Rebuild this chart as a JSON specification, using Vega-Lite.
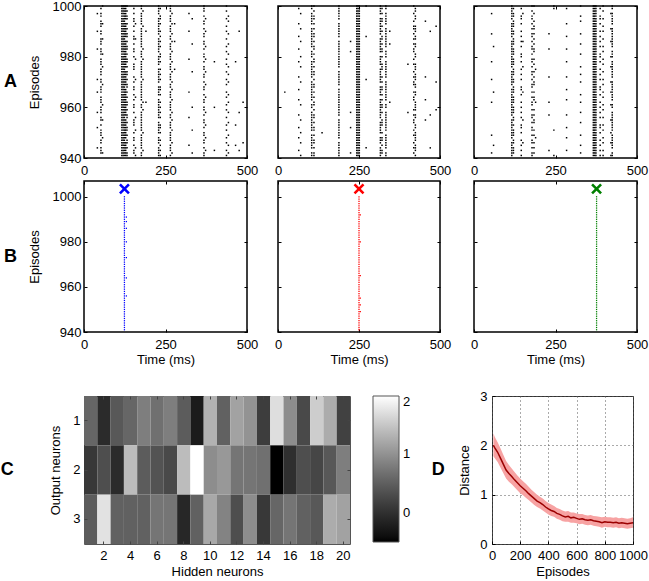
{
"$schema":"https://vega.github.io/schema/vega-lite/v6.json",
"padding":{"left":0,"top":-1,"right":2,"bottom":2},
"config":{
 "font":"Liberation Sans",
 "view":{"stroke":"black","strokeWidth":1.5},
 "axis":{"domain":false,"grid":false,"labelFont":"Liberation Sans","labelFontSize":13,"labelColor":"black","titleFont":"Liberation Sans","titleFontSize":13,"titleFontWeight":"normal","titleColor":"black","tickColor":"black","tickSize":-3,"labelFlush":false,"labelOverlap":false,"format":"d"},
 "axisX":{"labelPadding":9,"titlePadding":2},
 "axisY":{"labelPadding":6},
 "title":{"font":"Liberation Sans","color":"black","fontSize":18,"fontWeight":"bold"},
 "legend":{"labelFont":"Liberation Sans","labelFontSize":13,"labelColor":"black"}
},
"datasets":{
"spk":[
{"p":"A1","t":41,"e":[944,952,958,966,971,983,990,997]},
{"p":"A1","t":52,"e":[942,943,944,946,947,949,950,951,953,955,956,958,959,960,962,963,964,966,967,968,970,971,973,974,975,977,978,979,981,982,983,985,986,987,989,990,992,993,994,996,997,999]},
{"p":"A1","t":57,"e":[942,948,955,961,969,976,981,987,993,1000]},
{"p":"A1","t":116,"e":[941,942,943,944,945,946,947,948,949,950,951,952,953,954,955,956,957,958,959,960,961,962,963,964,965,966,967,968,969,970,971,972,973,974,975,976,977,978,979,980,981,982,983,984,985,986,987,988,989,990,991,992,993,994,995,996,997,998,999,1000]},
{"p":"A1","t":120,"e":[941,942,943,944,945,946,947,948,949,950,951,952,953,954,955,956,957,958,959,960,961,962,963,964,965,966,967,968,969,970,971,972,973,974,975,976,977,978,979,980,981,982,983,984,985,986,987,988,989,990,991,992,993,994,995,996,997,998,999,1000]},
{"p":"A1","t":124,"e":[941,942,943,944,945,946,947,948,949,950,951,952,953,954,955,956,957,958,959,960,961,962,963,964,965,966,967,968,969,970,971,972,973,974,975,976,977,978,979,980,981,982,983,984,985,986,987,988,989,990,991,992,993,994,995,996,997,998,999,1000]},
{"p":"A1","t":128,"e":[941,942,943,944,945,946,948,949,950,951,952,953,954,955,957,958,959,960,961,962,963,964,965,966,967,969,970,971,972,973,974,976,977,978,979,980,981,982,983,984,985,986,988,989,990,991,992,993,995,996,997,998,999,1000]},
{"p":"A1","t":132,"e":[941,942,944,946,947,949,951,952,954,956,957,959,961,962,964,966,968,969,971,973,974,976,978,979,981,983,984,986,988,989,991,993,995,996,998,1000]},
{"p":"A1","t":153,"e":[942,943,945,947,948,950,953,954,955,958,960,961,963,965,967,968,970,972,975,976,977,980,982,983,985,987,988,990,992,994,995,997,999]},
{"p":"A1","t":158,"e":[941,944,951,956,964,971,979,987,993]},
{"p":"A1","t":176,"e":[941,942,944,945,946,947,948,949,951,952,953,954,955,956,957,958,960,961,963,964,965,966,967,968,969,970,972,973,974,975,976,977,978,980,981,982,984,985,986,987,988,989,990,991,993,994,995,996,997,999,1000]},
{"p":"A1","t":181,"e":[943,950,959,962,971,979,983,992,998]},
{"p":"A1","t":190,"e":[962,990]},
{"p":"A1","t":229,"e":[941,942,943,944,946,947,948,950,951,952,953,954,956,957,958,959,960,961,962,963,965,966,967,968,970,971,972,973,974,975,977,978,979,980,982,983,984,985,986,987,989,990,991,992,993,994,995,997,998,999,1000]},
{"p":"A1","t":234,"e":[941,943,945,947,950,952,953,956,958,960,962,965,967,968,971,973,975,978,980,981,984,986,988,990,993,995,996,999]},
{"p":"A1","t":265,"e":[941,943,944,945,947,948,949,950,952,953,954,956,957,959,960,961,962,964,965,966,968,969,971,972,973,975,976,977,979,980,981,983,984,985,987,988,990,991,992,994,995,996,998,999,1000]},
{"p":"A1","t":270,"e":[942,946,951,955,958,963,967,970,974,978,982,986,989,993,997]},
{"p":"A1","t":278,"e":[975,986,993]},
{"p":"A1","t":322,"e":[945,956,966,979,990,997]},
{"p":"A1","t":332,"e":[942,951,960,974,985,995]},
{"p":"A1","t":368,"e":[941,942,944,946,947,949,950,952,954,955,957,959,960,962,963,965,967,968,970,972,973,975,976,978,980,981,983,985,986,988,989,991,993,994,996,998,999,1000]},
{"p":"A1","t":373,"e":[943,948,953,958,964,969,974,979,984,990,995]},
{"p":"A1","t":400,"e":[943,960,978]},
{"p":"A1","t":437,"e":[941,943,946,948,951,953,956,959,961,964,966,969,971,974,977,979,982,984,987,990,992,995,998,1000]},
{"p":"A1","t":443,"e":[942,945,949,954,958,962,965,970,973,976,981,985,989,994,996]},
{"p":"A1","t":465,"e":[953,978,945]},
{"p":"A1","t":476,"e":[943,958,990]},
{"p":"A1","t":488,"e":[946,962]},
{"p":"A2","t":21,"e":[966]},
{"p":"A2","t":64,"e":[943,948,952,957,963,967,972,978,983,988,993,999]},
{"p":"A2","t":70,"e":[941,946,950,955,961,970,976,980,986,991,997]},
{"p":"A2","t":104,"e":[941,942,944,945,946,947,948,949,951,952,953,954,955,956,957,958,960,961,963,964,965,966,967,968,969,970,972,973,974,975,976,977,978,980,981,982,984,985,986,987,988,989,990,991,993,994,995,996,997,999,1000]},
{"p":"A2","t":111,"e":[941,942,944,946,947,949,951,952,954,956,957,959,961,962,964,966,968,969,971,973,974,976,978,979,981,983,984,986,988,989,991,993,995,996,998,1000]},
{"p":"A2","t":136,"e":[950]},
{"p":"A2","t":188,"e":[941,942,943,944,945,946,948,949,950,951,952,953,954,955,957,958,959,960,961,962,963,964,965,966,967,969,970,971,972,973,974,976,977,978,979,980,981,982,983,984,985,986,988,989,990,991,992,993,995,996,997,998,999,1000]},
{"p":"A2","t":224,"e":[942,952,958,982,986]},
{"p":"A2","t":243,"e":[941,942,943,944,945,946,947,948,949,950,951,952,953,954,955,956,957,958,959,960,961,962,963,964,965,966,967,968,969,970,971,972,973,974,975,976,977,978,979,980,981,982,983,984,985,986,987,988,989,990,991,992,993,994,995,996,997,998,999,1000]},
{"p":"A2","t":247,"e":[941,942,943,944,945,946,947,948,949,950,951,952,953,954,955,956,957,958,959,960,961,962,963,964,965,966,967,968,969,970,971,972,973,974,975,976,977,978,979,980,981,982,983,984,985,986,987,988,989,990,991,992,993,994,995,996,997,998,999,1000]},
{"p":"A2","t":251,"e":[941,942,943,944,945,946,947,948,949,950,951,952,953,954,955,956,957,958,959,960,961,962,963,964,965,966,967,968,969,970,971,972,973,974,975,976,977,978,979,980,981,982,983,984,985,986,987,988,989,990,991,992,993,994,995,996,997,998,999,1000]},
{"p":"A2","t":272,"e":[944,971,988,1000]},
{"p":"A2","t":316,"e":[941,942,943,944,946,947,948,950,951,952,953,954,956,957,958,959,960,961,962,963,965,966,967,968,970,971,972,973,974,975,977,978,979,980,982,983,984,985,986,987,989,990,991,992,993,994,995,997,998,999,1000]},
{"p":"A2","t":321,"e":[942,943,945,947,948,950,953,954,955,958,960,961,963,965,967,968,970,972,975,976,977,980,982,983,985,987,988,990,992,994,995,997,999]},
{"p":"A2","t":333,"e":[941,942,944,945,946,947,948,949,951,952,953,954,955,956,957,958,960,961,963,964,965,966,967,968,969,970,972,973,974,975,976,977,978,980,981,982,984,985,986,987,988,989,990,991,993,994,995,996,997,999,1000]},
{"p":"A2","t":345,"e":[962,985,990]},
{"p":"A2","t":401,"e":[958,977]},
{"p":"A2","t":419,"e":[942,944,946,949,951,954,955,957,959,963,964,966,969,970,972,974,977,979,982,983,985,987,989,991,992,994,997,1000]},
{"p":"A2","t":424,"e":[941,943,944,945,947,948,949,950,952,953,956,957,959,960,961,962,965,966,968,969,971,972,973,975,976,977,980,981,984,985,987,988,990,991,992,995,996,998,999]},
{"p":"A2","t":455,"e":[955,963,972,994]},
{"p":"A2","t":470,"e":[944,957,990]},
{"p":"A2","t":488,"e":[959,970,992]},
{"p":"A3","t":54,"e":[942,949,962,971,978,989,997]},
{"p":"A3","t":60,"e":[945,966,984]},
{"p":"A3","t":116,"e":[941,942,943,944,945,946,948,949,950,951,952,953,954,955,957,958,959,960,961,962,963,964,965,966,967,969,970,971,972,973,974,976,977,978,979,980,981,982,983,984,985,986,988,989,990,991,992,993,995,996,997,998,999,1000]},
{"p":"A3","t":121,"e":[942,943,944,946,947,949,950,951,953,955,956,958,959,960,962,963,964,966,967,968,970,971,973,974,975,977,978,979,981,982,983,985,986,987,989,990,992,993,994,996,997,999]},
{"p":"A3","t":145,"e":[941,943,945,947,950,952,953,956,958,960,962,965,967,968,971,973,975,978,980,981,984,986,988,990,993,995,996,999]},
{"p":"A3","t":150,"e":[946,955,966,976,986,997]},
{"p":"A3","t":178,"e":[941,942,944,946,947,949,951,952,954,956,957,959,961,962,964,966,968,969,971,973,974,976,978,979,981,983,984,986,988,989,991,993,995,996,998,1000]},
{"p":"A3","t":184,"e":[942,944,946,949,951,954,955,957,959,963,964,966,969,970,972,974,977,979,982,983,985,987,989,991,992,994,997,1000]},
{"p":"A3","t":189,"e":[948,962,975]},
{"p":"A3","t":230,"e":[943,957,962,972,983,989]},
{"p":"A3","t":245,"e":[941,951,999,1000]},
{"p":"A3","t":284,"e":[943,948,952,957,963,967,972,978,983,988,993,999]},
{"p":"A3","t":327,"e":[942,945,949,954,958,962,965,970,973,976,981,985,989,994,996,1000]},
{"p":"A3","t":366,"e":[941,942,943,944,945,946,947,948,949,950,951,952,953,954,955,956,957,958,959,960,961,962,963,964,965,966,967,968,969,970,971,972,973,974,975,976,977,978,979,980,981,982,983,984,985,986,987,988,989,990,991,992,993,994,995,996,997,998,999,1000]},
{"p":"A3","t":370,"e":[941,942,943,944,945,946,947,948,949,950,951,952,953,954,955,956,957,958,959,960,961,962,963,964,965,966,967,968,969,970,971,972,973,974,975,976,977,978,979,980,981,982,983,984,985,986,987,988,989,990,991,992,993,994,995,996,997,998,999,1000]},
{"p":"A3","t":374,"e":[941,942,943,944,945,946,947,948,949,950,951,952,953,954,955,956,957,958,959,960,961,962,963,964,965,966,967,968,969,970,971,972,973,974,975,976,977,978,979,980,981,982,983,984,985,986,987,988,989,990,991,992,993,994,995,996,997,998,999,1000]},
{"p":"A3","t":387,"e":[941,943,945,947,950,952,953,956,958,960,962,965,967,968,971,973,975,978,980,981,984,986,988,990,993,995,996,999]},
{"p":"A3","t":396,"e":[941,943,946,948,951,953,956,959,961,964,966,969,971,974,977,979,982,984,987,990,992,995,998,1000]},
{"p":"A3","t":420,"e":[941,946,950,955,961,966,970,976,980,986,991,997]},
{"p":"A3","t":424,"e":[941,942,944,945,946,947,948,949,951,952,953,954,955,956,957,958,960,961,963,964,965,966,967,968,969,970,972,973,974,975,976,977,978,980,981,982,984,985,986,987,988,989,990,991,993,994,995,996,997,999,1000]},
{"p":"B1","t":124,"e":[941,942,943,944,945,946,947,948,949,950,951,952,953,954,955,956,957,958,959,960,961,962,963,964,965,966,967,968,969,970,971,972,973,974,975,976,977,978,979,980,981,982,983,984,985,986,987,988,989,990,991,992,993,994,995,996,997,998,999,1000]},
{"p":"B1","t":130,"e":[956,964,973,980,986,989,991]},
{"p":"B2","t":250,"e":[941,942,943,944,945,946,947,948,949,950,951,952,953,954,955,956,957,958,959,960,961,962,963,964,965,966,967,968,969,970,971,972,973,974,975,976,977,978,979,980,981,982,983,984,985,986,987,988,989,990,991,992,993,994,995,996,997,998,999,1000]},
{"p":"B2","t":254,"e":[949,952,955,965,980,992]},
{"p":"B3","t":376,"e":[941,942,943,944,945,946,947,948,949,950,951,952,953,954,955,956,957,958,959,960,961,962,963,964,965,966,967,968,969,970,971,972,973,974,975,976,977,978,979,980,981,982,983,984,985,986,987,988,989,990,991,992,993,994,995,996,997,998,999,1000]}
],
"mk":[{"p":"B1","t":124,"e":1003.5},{"p":"B2","t":250,"e":1003.5},{"p":"B3","t":376,"e":1003.5}],
"heat":[
{"h":1,"o":1,"v":0.58},{"h":2,"o":1,"v":-0.06},{"h":3,"o":1,"v":0.43},{"h":4,"o":1,"v":0.58},{"h":5,"o":1,"v":0.82},{"h":6,"o":1,"v":0.68},{"h":7,"o":1,"v":0.82},{"h":8,"o":1,"v":0.48},{"h":9,"o":1,"v":-0.25},{"h":10,"o":1,"v":1.31},{"h":11,"o":1,"v":0.53},{"h":12,"o":1,"v":1.17},{"h":13,"o":1,"v":1.02},{"h":14,"o":1,"v":0.14},{"h":15,"o":1,"v":1.71},{"h":16,"o":1,"v":0.97},{"h":17,"o":1,"v":0.28},{"h":18,"o":1,"v":1.56},{"h":19,"o":1,"v":1.26},{"h":20,"o":1,"v":0.19},
{"h":1,"o":2,"v":0.09},{"h":2,"o":2,"v":0.33},{"h":3,"o":2,"v":-0.06},{"h":4,"o":2,"v":1.41},{"h":5,"o":2,"v":0.48},{"h":6,"o":2,"v":0.38},{"h":7,"o":2,"v":0.28},{"h":8,"o":2,"v":1.41},{"h":9,"o":2,"v":2.0},{"h":10,"o":2,"v":0.97},{"h":11,"o":2,"v":1.07},{"h":12,"o":2,"v":0.73},{"h":13,"o":2,"v":0.73},{"h":14,"o":2,"v":0.68},{"h":15,"o":2,"v":-0.5},{"h":16,"o":2,"v":-0.01},{"h":17,"o":2,"v":0.33},{"h":18,"o":2,"v":0.24},{"h":19,"o":2,"v":0.43},{"h":20,"o":2,"v":0.82},
{"h":1,"o":3,"v":0.48},{"h":2,"o":3,"v":1.75},{"h":3,"o":3,"v":0.53},{"h":4,"o":3,"v":0.53},{"h":5,"o":3,"v":0.53},{"h":6,"o":3,"v":0.73},{"h":7,"o":3,"v":0.73},{"h":8,"o":3,"v":-0.11},{"h":9,"o":3,"v":0.53},{"h":10,"o":3,"v":1.22},{"h":11,"o":3,"v":0.87},{"h":12,"o":3,"v":0.33},{"h":13,"o":3,"v":0.97},{"h":14,"o":3,"v":0.09},{"h":15,"o":3,"v":0.58},{"h":16,"o":3,"v":0.73},{"h":17,"o":3,"v":0.53},{"h":18,"o":3,"v":0.43},{"h":19,"o":3,"v":1.26},{"h":20,"o":3,"v":1.17}
],
"dist":[
{"e":10,"m":2.00,"lo":1.78,"hi":2.24},{"e":20,"m":1.95,"lo":1.74,"hi":2.17},{"e":40,"m":1.86,"lo":1.66,"hi":2.06},{"e":60,"m":1.74,"lo":1.55,"hi":1.94},{"e":80,"m":1.62,"lo":1.44,"hi":1.81},{"e":100,"m":1.50,"lo":1.33,"hi":1.68},{"e":120,"m":1.43,"lo":1.26,"hi":1.60},{"e":140,"m":1.37,"lo":1.21,"hi":1.53},{"e":160,"m":1.30,"lo":1.15,"hi":1.46},{"e":180,"m":1.24,"lo":1.09,"hi":1.39},{"e":200,"m":1.18,"lo":1.03,"hi":1.33},{"e":220,"m":1.13,"lo":0.99,"hi":1.27},{"e":240,"m":1.08,"lo":0.94,"hi":1.22},{"e":260,"m":1.02,"lo":0.89,"hi":1.16},{"e":280,"m":0.97,"lo":0.84,"hi":1.10},{"e":300,"m":0.92,"lo":0.79,"hi":1.05},{"e":320,"m":0.87,"lo":0.75,"hi":1.00},{"e":340,"m":0.84,"lo":0.72,"hi":0.96},{"e":360,"m":0.80,"lo":0.68,"hi":0.92},{"e":380,"m":0.75,"lo":0.64,"hi":0.87},{"e":400,"m":0.71,"lo":0.60,"hi":0.83},{"e":420,"m":0.68,"lo":0.57,"hi":0.80},{"e":440,"m":0.66,"lo":0.55,"hi":0.77},{"e":460,"m":0.62,"lo":0.51,"hi":0.73},{"e":480,"m":0.60,"lo":0.49,"hi":0.71},{"e":500,"m":0.57,"lo":0.46,"hi":0.68},{"e":520,"m":0.55,"lo":0.45,"hi":0.66},{"e":540,"m":0.56,"lo":0.45,"hi":0.67},{"e":560,"m":0.53,"lo":0.43,"hi":0.64},{"e":580,"m":0.54,"lo":0.43,"hi":0.64},{"e":600,"m":0.52,"lo":0.42,"hi":0.62},{"e":620,"m":0.50,"lo":0.40,"hi":0.61},{"e":640,"m":0.51,"lo":0.41,"hi":0.61},{"e":660,"m":0.49,"lo":0.39,"hi":0.59},{"e":680,"m":0.48,"lo":0.38,"hi":0.58},{"e":700,"m":0.49,"lo":0.39,"hi":0.59},{"e":720,"m":0.47,"lo":0.37,"hi":0.57},{"e":740,"m":0.46,"lo":0.36,"hi":0.56},{"e":760,"m":0.45,"lo":0.35,"hi":0.55},{"e":780,"m":0.43,"lo":0.33,"hi":0.54},{"e":800,"m":0.45,"lo":0.35,"hi":0.55},{"e":820,"m":0.44,"lo":0.34,"hi":0.54},{"e":840,"m":0.44,"lo":0.34,"hi":0.54},{"e":860,"m":0.43,"lo":0.33,"hi":0.53},{"e":880,"m":0.44,"lo":0.34,"hi":0.54},{"e":900,"m":0.42,"lo":0.32,"hi":0.52},{"e":920,"m":0.43,"lo":0.33,"hi":0.53},{"e":940,"m":0.42,"lo":0.32,"hi":0.52},{"e":960,"m":0.41,"lo":0.31,"hi":0.51},{"e":980,"m":0.42,"lo":0.32,"hi":0.52},{"e":1000,"m":0.43,"lo":0.33,"hi":0.54}
]
},
"vconcat":[
{"vconcat":[
 {"hconcat":[
  {"width":163,"height":152,
   "title":{"text":"A","orient":"left","angle":0,"anchor":"middle","frame":"group","align":"right","baseline":"middle","offset":-2},
   "layer":[
    {"data":{"name":"spk"},"transform":[{"filter":"datum.p==='A1'"},{"flatten":["e"]}],
     "mark":{"type":"point","shape":"square","filled":true,"size":2.2,"color":"black","opacity":1},
     "encoding":{"x":{"field":"t","type":"quantitative","scale":{"domain":[0,500],"nice":false},"axis":{"values":[0,250,500],"title":null}},
      "y":{"field":"e","type":"quantitative","scale":{"domain":[940,1000],"nice":false,"zero":false},"axis":{"values":[940,960,980,1000],"title":"Episodes","titlePadding":11}}}},
    {"data":{"values":[{"t":250,"e":970}]},"mark":{"type":"point","opacity":0},
     "encoding":{"x":{"field":"t","type":"quantitative","axis":{"orient":"top","values":[0,250,500],"labels":false,"title":null}},
      "y":{"field":"e","type":"quantitative","axis":{"orient":"right","values":[940,960,980,1000],"labels":false,"title":null}}}}
   ],"resolve":{"axis":{"x":"independent","y":"independent"}}},
  {"hconcat":[
   {"width":162,"height":152,
    "layer":[
     {"data":{"name":"spk"},"transform":[{"filter":"datum.p==='A2'"},{"flatten":["e"]}],
      "mark":{"type":"point","shape":"square","filled":true,"size":2.2,"color":"black","opacity":1},
      "encoding":{"x":{"field":"t","type":"quantitative","scale":{"domain":[0,500],"nice":false},"axis":{"values":[0,250,500],"title":null}},
       "y":{"field":"e","type":"quantitative","scale":{"domain":[940,1000],"nice":false,"zero":false},"axis":{"values":[940,960,980,1000],"title":null,"labels":false}}}},
     {"data":{"values":[{"t":250,"e":970}]},"mark":{"type":"point","opacity":0},
      "encoding":{"x":{"field":"t","type":"quantitative","axis":{"orient":"top","values":[0,250,500],"labels":false,"title":null}},
       "y":{"field":"e","type":"quantitative","axis":{"orient":"right","values":[940,960,980,1000],"labels":false,"title":null}}}}
    ],"resolve":{"axis":{"x":"independent","y":"independent"}}},
   {"width":163,"height":152,
    "layer":[
     {"data":{"name":"spk"},"transform":[{"filter":"datum.p==='A3'"},{"flatten":["e"]}],
      "mark":{"type":"point","shape":"square","filled":true,"size":2.2,"color":"black","opacity":1},
      "encoding":{"x":{"field":"t","type":"quantitative","scale":{"domain":[0,500],"nice":false},"axis":{"values":[0,250,500],"title":null}},
       "y":{"field":"e","type":"quantitative","scale":{"domain":[940,1000],"nice":false,"zero":false},"axis":{"values":[940,960,980,1000],"title":null,"labels":false}}}},
     {"data":{"values":[{"t":250,"e":970}]},"mark":{"type":"point","opacity":0},
      "encoding":{"x":{"field":"t","type":"quantitative","axis":{"orient":"top","values":[0,250,500],"labels":false,"title":null}},
       "y":{"field":"e","type":"quantitative","axis":{"orient":"right","values":[940,960,980,1000],"labels":false,"title":null}}}}
    ],"resolve":{"axis":{"x":"independent","y":"independent"}}}
  ],"spacing":17}
 ],"spacing":14},
 {"hconcat":[
  {"width":163,"height":151,
   "title":{"text":"B","orient":"left","angle":0,"anchor":"middle","frame":"group","align":"right","baseline":"middle","offset":-2},
   "layer":[
    {"data":{"name":"spk"},"transform":[{"filter":"datum.p==='B1'"},{"flatten":["e"]}],
     "mark":{"type":"point","shape":"square","filled":true,"size":1.6,"color":"#0000ff","opacity":1},
     "encoding":{"x":{"field":"t","type":"quantitative","scale":{"domain":[0,500],"nice":false},"axis":{"values":[0,250,500],"title":"Time (ms)"}},
      "y":{"field":"e","type":"quantitative","scale":{"domain":[940,1007],"nice":false,"zero":false},"axis":{"values":[940,960,980,1000],"title":"Episodes","titlePadding":11}}}},
    {"data":{"name":"mk"},"transform":[{"filter":"datum.p==='B1'"}],
     "mark":{"type":"point","shape":"M-1,-1L1,1M1,-1L-1,1","size":81,"filled":false,"strokeWidth":2.6,"color":"#0000ff","opacity":1},
     "encoding":{"x":{"field":"t","type":"quantitative","axis":{"orient":"top","values":[0,250,500],"labels":false,"title":null}},"y":{"field":"e","type":"quantitative","axis":{"orient":"right","values":[940,960,980,1000],"labels":false,"title":null}}}}
   ],"resolve":{"axis":{"x":"independent","y":"independent"}}},
  {"hconcat":[
   {"width":162,"height":151,
    "layer":[
     {"data":{"name":"spk"},"transform":[{"filter":"datum.p==='B2'"},{"flatten":["e"]}],
      "mark":{"type":"point","shape":"square","filled":true,"size":1.6,"color":"#ff0000","opacity":1},
      "encoding":{"x":{"field":"t","type":"quantitative","scale":{"domain":[0,500],"nice":false},"axis":{"values":[0,250,500],"title":"Time (ms)"}},
       "y":{"field":"e","type":"quantitative","scale":{"domain":[940,1007],"nice":false,"zero":false},"axis":{"values":[940,960,980,1000],"title":null,"labels":false}}}},
     {"data":{"name":"mk"},"transform":[{"filter":"datum.p==='B2'"}],
      "mark":{"type":"point","shape":"M-1,-1L1,1M1,-1L-1,1","size":81,"filled":false,"strokeWidth":2.6,"color":"#ff0000","opacity":1},
      "encoding":{"x":{"field":"t","type":"quantitative","axis":{"orient":"top","values":[0,250,500],"labels":false,"title":null}},"y":{"field":"e","type":"quantitative","axis":{"orient":"right","values":[940,960,980,1000],"labels":false,"title":null}}}}
    ],"resolve":{"axis":{"x":"independent","y":"independent"}}},
   {"width":163,"height":151,
    "layer":[
     {"data":{"name":"spk"},"transform":[{"filter":"datum.p==='B3'"},{"flatten":["e"]}],
      "mark":{"type":"point","shape":"square","filled":true,"size":1.6,"color":"#008000","opacity":1},
      "encoding":{"x":{"field":"t","type":"quantitative","scale":{"domain":[0,500],"nice":false},"axis":{"values":[0,250,500],"title":"Time (ms)"}},
       "y":{"field":"e","type":"quantitative","scale":{"domain":[940,1007],"nice":false,"zero":false},"axis":{"values":[940,960,980,1000],"title":null,"labels":false}}}},
     {"data":{"name":"mk"},"transform":[{"filter":"datum.p==='B3'"}],
      "mark":{"type":"point","shape":"M-1,-1L1,1M1,-1L-1,1","size":81,"filled":false,"strokeWidth":2.6,"color":"#008000","opacity":1},
      "encoding":{"x":{"field":"t","type":"quantitative","axis":{"orient":"top","values":[0,250,500],"labels":false,"title":null}},"y":{"field":"e","type":"quantitative","axis":{"orient":"right","values":[940,960,980,1000],"labels":false,"title":null}}}}
    ],"resolve":{"axis":{"x":"independent","y":"independent"}}}
  ],"spacing":17}
 ],"spacing":14}
],"spacing":0},
{"hconcat":[
 {"width":266,"height":148,
  "view":{"stroke":"#555","strokeWidth":1},
  "title":{"text":"C","orient":"left","angle":0,"anchor":"middle","frame":"group","align":"right","baseline":"middle","offset":23},
  "data":{"name":"heat"},
  "layer":[
   {"mark":{"type":"rect"},
    "encoding":{
     "x":{"field":"h","type":"ordinal","scale":{"paddingInner":0,"paddingOuter":0},"axis":{"values":[2,4,6,8,10,12,14,16,18,20],"labelAngle":0,"title":"Hidden neurons","tickColor":"#444","labelPadding":8,"titlePadding":3}},
     "y":{"field":"o","type":"ordinal","scale":{"paddingInner":0,"paddingOuter":0},"axis":{"title":"Output neurons","titlePadding":10,"tickColor":"#444","labelPadding":7}},
     "color":{"field":"v","type":"quantitative","scale":{"domain":[-0.5,2],"range":["#000000","#ffffff"]},
      "legend":{"title":null,"values":[0,1,2],"direction":"vertical","orient":"right","offset":22,"padding":0,"gradientLength":146,"gradientThickness":26,"gradientStrokeColor":"#555","gradientStrokeWidth":1,"labelOffset":4,"labelBaseline":"middle"}}
    }},
   {"mark":{"type":"rect","opacity":0},
    "encoding":{
     "x":{"field":"h","type":"ordinal","axis":{"orient":"top","values":[2,4,6,8,10,12,14,16,18,20],"labels":false,"title":null,"tickColor":"#444"}},
     "y":{"field":"o","type":"ordinal","axis":{"orient":"right","labels":false,"title":null,"tickColor":"#444"}}
    }}
  ],"resolve":{"axis":{"x":"independent","y":"independent"}}},
 {"width":141,"height":148,
  "view":{"stroke":"#333","strokeWidth":1},
  "title":{"text":"D","orient":"left","angle":0,"anchor":"middle","frame":"group","align":"right","baseline":"middle","offset":1},
  "data":{"name":"dist"},
  "encoding":{"x":{"field":"e","type":"quantitative","scale":{"domain":[0,1000],"nice":false},"axis":{"values":[0,200,400,600,800,1000],"title":"Episodes","grid":true,"gridDash":[1,3],"gridColor":"#555","labelPadding":8,"titlePadding":3}}},
  "layer":[
   {"mark":{"type":"area","color":"#f7a3a3","opacity":1},
    "encoding":{"y":{"field":"lo","type":"quantitative","scale":{"domain":[0,3],"nice":false},"axis":{"values":[0,1,2,3],"title":"Distance","titlePadding":8,"labelPadding":8,"grid":true,"gridDash":[1,3],"gridColor":"#555"}},"y2":{"field":"hi"}}},
   {"mark":{"type":"line","color":"#9b0000","strokeWidth":1.5},
    "encoding":{"y":{"field":"m","type":"quantitative"}}}
  ]}
],"spacing":19,"resolve":{"legend":{"color":"independent"}}}
],"spacing":22
}
